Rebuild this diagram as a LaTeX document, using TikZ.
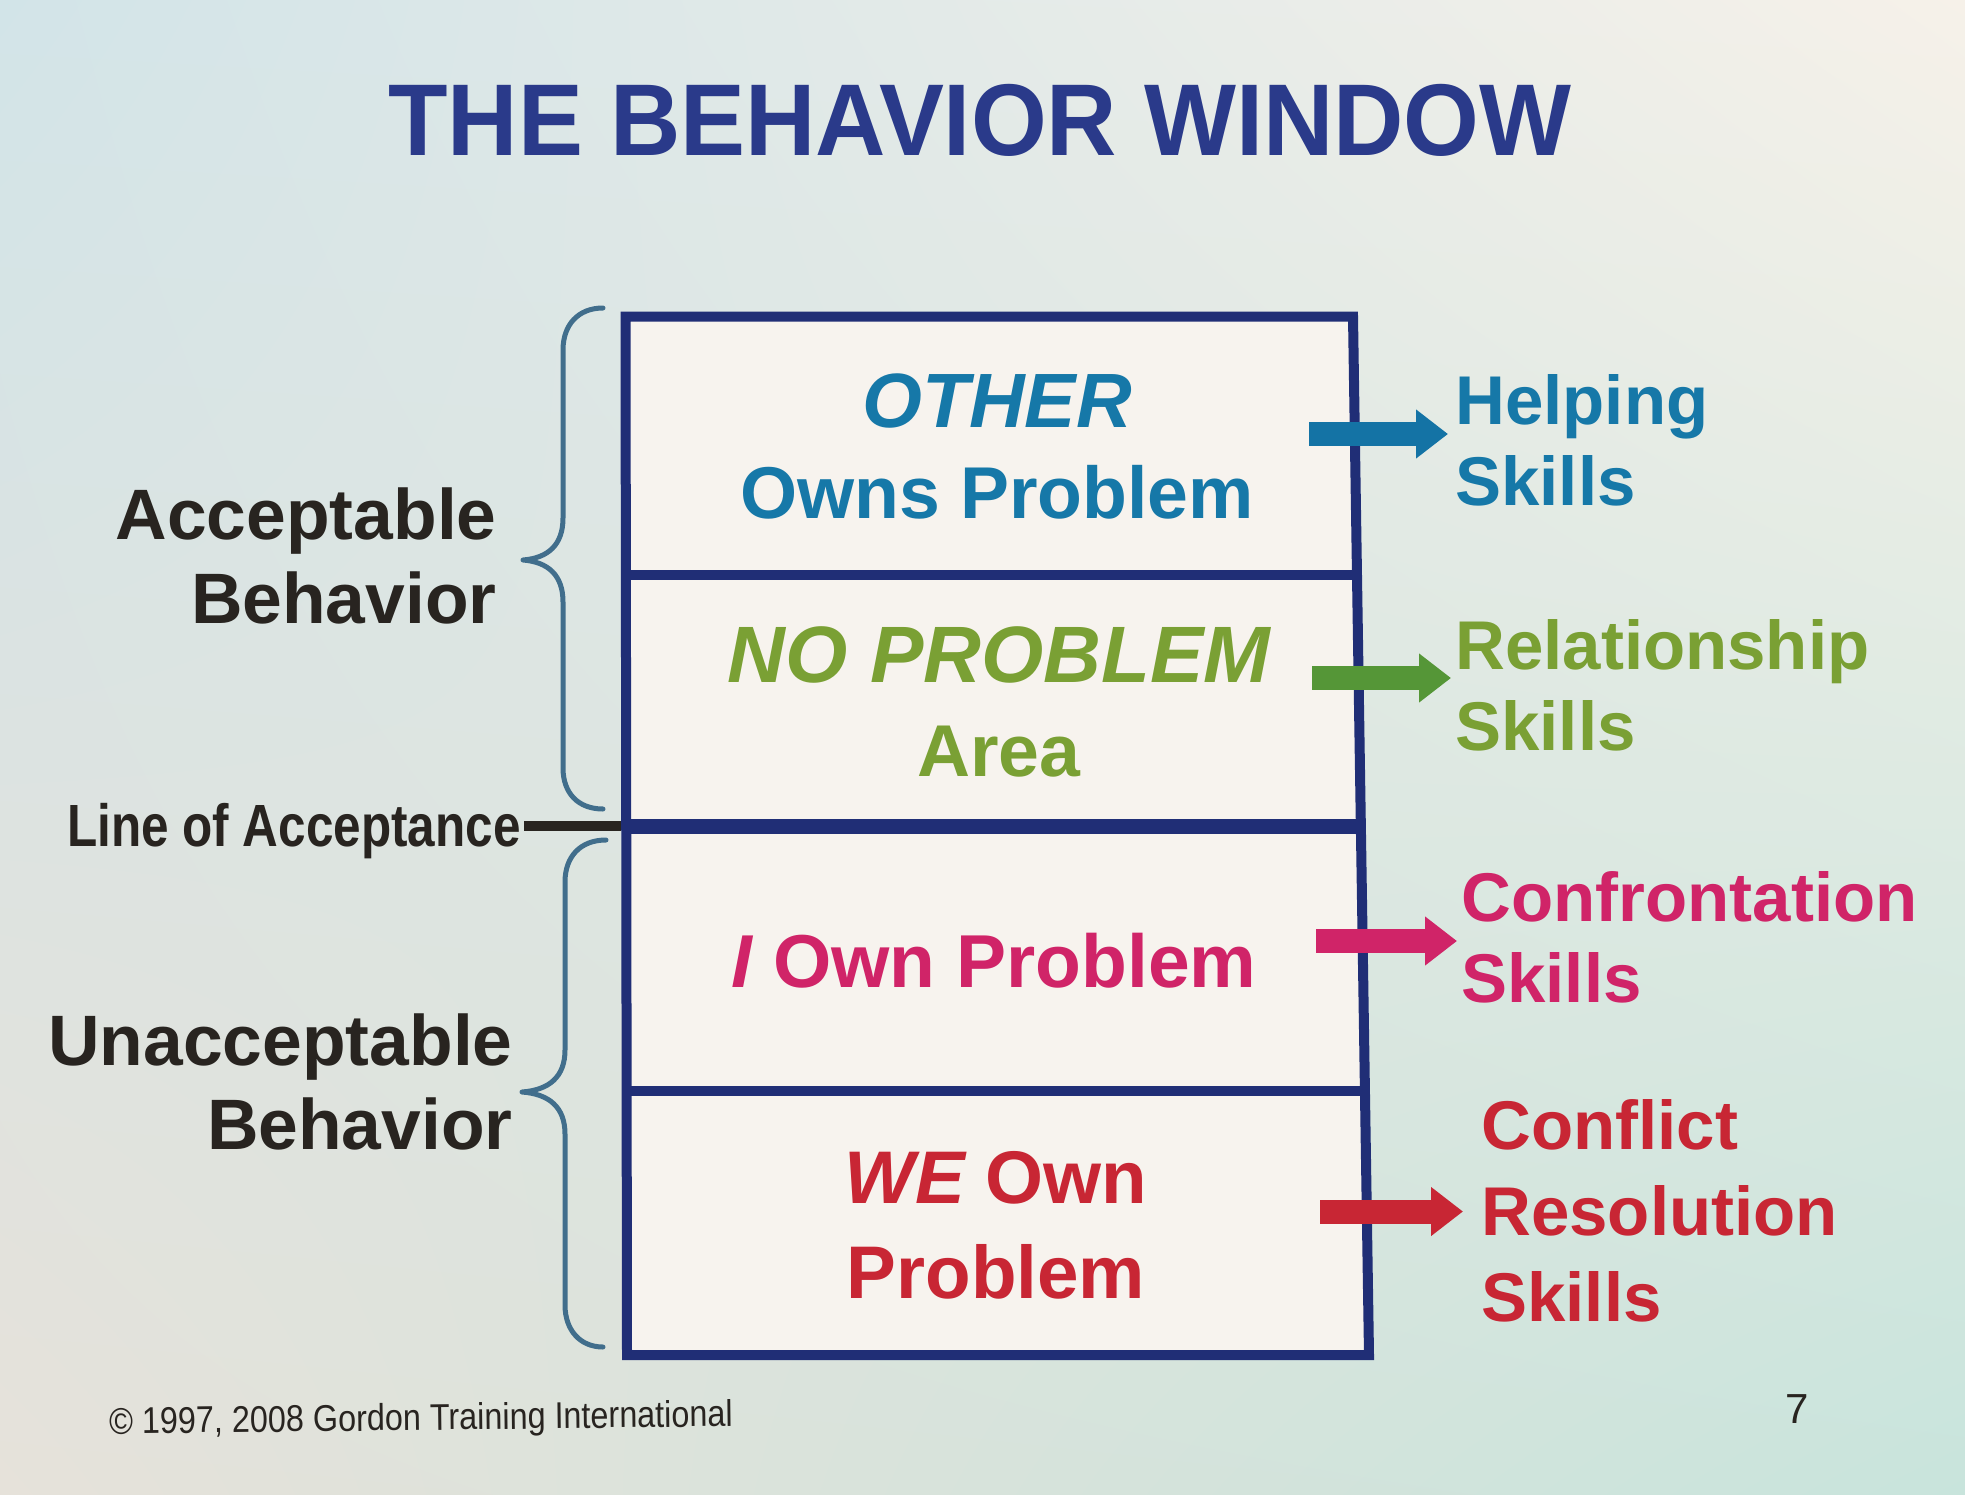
\documentclass[tikz,border=0pt]{standalone}
\usepackage{fontspec}
\setmainfont{Liberation Sans}
\newfontfamily\titlefont[FakeStretch=0.955]{Liberation Sans}
\newfontfamily\narrowfont[FakeStretch=0.83]{Liberation Sans}
\newfontfamily\copyfont[FakeStretch=0.87]{Liberation Sans}
\usetikzlibrary{arrows.meta,shadings}
\definecolor{bgUL}{RGB}{210,228,232}
\definecolor{bgUR}{RGB}{246,241,233}
\definecolor{bgLL}{RGB}{230,226,218}
\definecolor{bgLR}{RGB}{200,228,220}
\definecolor{boxfill}{RGB}{247,243,238}
\definecolor{navy}{RGB}{32,46,118}
\definecolor{ctitle}{RGB}{42,58,138}
\definecolor{cblue}{RGB}{22,120,168}
\definecolor{ablue}{RGB}{20,115,165}
\definecolor{cgreen}{RGB}{122,160,52}
\definecolor{agreen}{RGB}{85,150,55}
\definecolor{cpink}{RGB}{208,36,104}
\definecolor{cred}{RGB}{200,38,52}
\definecolor{cdark}{RGB}{40,36,32}
\definecolor{cbrace}{RGB}{65,110,140}
\begin{document}
\begin{tikzpicture}[x=0.5pt,y=-0.5pt,
  boxline/.style={draw=navy,line width=5pt},
  bracestyle/.style={draw=cbrace,line width=2.5pt,line cap=round,line join=round},
  rowtext/.style={inner sep=0pt,align=center},
  skilltext/.style={inner sep=0pt,align=left,anchor=west,font=\fontsize{34.5}{40.5}\selectfont\bfseries},
  sidetext/.style={inner sep=0pt,align=right,anchor=east,text=cdark,font=\fontsize{35.7}{42}\selectfont\bfseries},
  blockarrow/.style={line width=12pt,-{Triangle[length=16pt 0 0,width=23.5pt 0 0]}}]
\useasboundingbox (0,0) rectangle (1965,1494);
\shade[upper left=bgUL,upper right=bgUR,lower left=bgLL,lower right=bgLR] (0,0) rectangle (1965,1494);

% title
\node[font=\titlefont\bfseries\fontsize{51}{60}\selectfont,text=ctitle,anchor=base,inner sep=0pt] (title) at (980,155) {THE BEHAVIOR WINDOW};

% window
\coordinate (TL) at (625.5,316.5);
\coordinate (TR) at (1353,316.5);
\coordinate (BR) at (1369,1355);
\coordinate (BL) at (627,1355);
\filldraw[fill=boxfill,boxline,line join=miter] (TL) -- (TR) -- (BR) -- (BL) -- cycle;
\draw[boxline] (626,575) -- (1357,575);
\draw[boxline,line width=7.5pt] (626.2,826) -- (1361,826);
\draw[boxline] (626.6,1091) -- (1365,1091);

% row texts
\node[rowtext,text=cblue,font=\fontsize{36.7}{45.5}\selectfont\bfseries] (other) at (997,446)
  {{\fontsize{38.5}{45.5}\selectfont\itshape OTHER}\\Owns Problem};
\node[rowtext,text=cgreen,font=\fontsize{36.7}{47}\selectfont\bfseries] (noprob) at (999,702)
  {{\fontsize{40}{47}\selectfont\itshape NO PROBLEM}\\Area};
\node[rowtext,text=cpink,font=\fontsize{37.5}{45}\selectfont\bfseries] (iown) at (994,961)
  {{\itshape I} Own Problem};
\node[rowtext,text=cred,font=\fontsize{37.3}{47.5}\selectfont\bfseries] (weown) at (996,1225)
  {{\itshape WE} Own\\Problem};

% skill labels
\node[skilltext,text=cblue] (helping) at (1455,440) {Helping\\Skills};
\node[skilltext,text=cgreen] (relation) at (1455,685) {Relationship\\Skills};
\node[skilltext,text=cpink] (confront) at (1461,937) {Confrontation\\Skills};
\node[skilltext,text=cred,font=\fontsize{34.5}{43}\selectfont\bfseries] (conflict) at (1481,1211) {Conflict\\Resolution\\Skills};

% arrows
\coordinate (tB) at (1309,434);
\coordinate (tG) at (1312,678);
\coordinate (tP) at (1316,941);
\coordinate (tR) at (1320,1211.5);
\draw[blockarrow,ablue] (tB) -- ([xshift=-3.5pt]helping.west |- tB);
\draw[blockarrow,agreen] (tG) -- ([xshift=-2pt]relation.west |- tG);
\draw[blockarrow,cpink] (tP) -- ([xshift=-2pt]confront.west |- tP);
\draw[blockarrow,cred] (tR) -- ([xshift=-9pt]conflict.west |- tR);

% left labels
\node[sidetext] (accept) at (497,556) {Acceptable\\Behavior};
\node[sidetext] (unaccept) at (513,1081.5) {Unacceptable\\Behavior};

% braces
\draw[bracestyle] (603,308) .. controls (578,308) and (563,325) .. (563,350) -- (563,518)
  .. controls (563,545) and (548,558) .. (523,560) .. controls (548,562) and (563,575) .. (563,602)
  -- (563,768) .. controls (563,793) and (578,809) .. (603,809);
\draw[bracestyle] (606,840) .. controls (580,840) and (565,857) .. (565,882) -- (565,1050)
  .. controls (565,1077) and (549,1090) .. (522,1092) .. controls (549,1094) and (565,1107) .. (565,1134)
  -- (565,1305) .. controls (565,1330) and (580,1347) .. (603,1347);

% line of acceptance
\node[font=\narrowfont\bfseries\fontsize{29.8}{34}\selectfont,text=cdark,anchor=base east,inner sep=0pt] (loa) at (521,846) {Line of Acceptance};
\coordinate (accL) at (621,826);
\draw[draw=cdark,line width=5pt] ([xshift=1.5pt]loa.east |- accL) -- (accL);

% footer
\node[font=\copyfont\fontsize{18.6}{22}\selectfont,text=cdark,anchor=base west,inner sep=0pt,rotate=0.7] (copy) at (109,1434) {© 1997, 2008 Gordon Training International};
\node[font=\fontsize{21}{25}\selectfont,text=cdark,anchor=base,inner sep=0pt] (page) at (1797,1423) {7};
\end{tikzpicture}
\end{document}
